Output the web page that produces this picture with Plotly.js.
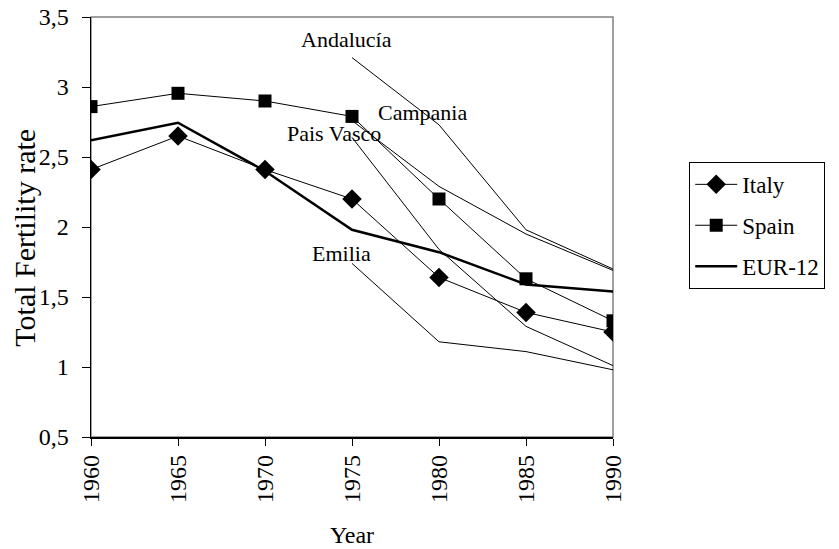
<!DOCTYPE html>
<html>
<head>
<meta charset="utf-8">
<script src="https://cdn.plot.ly/plotly-3.0.1.min.js"></script>
<style>html,body{margin:0;padding:0;background:#fff;}#chart{width:839px;height:549px;}</style>
</head>
<body>
<div id="chart"></div>
<script>
// ---- data ----
const years = [1960, 1965, 1970, 1975, 1980, 1985, 1990];
const italy = [2.41, 2.65, 2.41, 2.20, 1.64, 1.39, 1.25];
const spain = [2.86, 2.955, 2.90, 2.79, 2.20, 1.63, 1.33];
const eur12 = [2.62, 2.745, 2.40, 1.98, 1.82, 1.59, 1.54];

const regionYears = [1975, 1980, 1985, 1990];
const andalucia = [3.21, 2.73, 1.98, 1.70];
const campania = [2.76, 2.29, 1.95, 1.69];
const paisVasco = [2.64, 1.84, 1.29, 1.01];
const emilia = [1.74, 1.18, 1.11, 0.98];

const seriesNames = ["Italy", "Spain", "EUR-12"];
const regionNames = ["Andalucía", "Campania", "Pais Vasco", "Emilia"];
const yTickVals = [0.5, 1, 1.5, 2, 2.5, 3, 3.5];
const yTickText = ["0,5", "1", "1,5", "2", "2,5", "3", "3,5"];
const xTickVals = years;
const xTitle = "Year";
const yTitle = "Total Fertility rate";

// ---- traces ----
const FONT = "Liberation Serif";
const thin = {color: "#000", width: 1};
const regionTrace = (vals, name) => ({
  x: regionYears, y: vals, name: name, mode: "lines",
  line: {color: "#000", width: 1}, showlegend: false, hoverinfo: "skip"
});

const traces = [
  regionTrace(andalucia, regionNames[0]),
  regionTrace(campania, regionNames[1]),
  regionTrace(paisVasco, regionNames[2]),
  regionTrace(emilia, regionNames[3]),
  {x: years, y: eur12, name: seriesNames[2], mode: "lines", legendrank: 3, legendgroup: "c",
   line: {color: "#000", width: 2.5}},
  {x: years, y: italy, name: seriesNames[0], mode: "lines+markers", legendrank: 1, legendgroup: "a",
   line: thin, marker: {symbol: "diamond", size: 15, color: "#000"}},
  {x: years, y: spain, name: seriesNames[1], mode: "lines+markers", legendrank: 2, legendgroup: "b",
   line: thin, marker: {symbol: "square", size: 13, color: "#000"}}
];

// label placement for the region names
const labelX = [1974.66, 1979.05, 1973.99, 1974.37];
const labelY = [3.336, 2.816, 2.669, 1.814];

const annotations = regionNames.map((t, i) => ({
  x: labelX[i], y: labelY[i], xref: "x", yref: "y", text: t, showarrow: false,
  font: {family: FONT, size: 22, color: "#000"}, xanchor: "center", yanchor: "middle"
}));
// y axis title drawn as a rotated annotation so it can be centred like the reference
annotations.push({
  x: -0.128, y: 0.475, xref: "paper", yref: "paper", text: yTitle, showarrow: false,
  textangle: -90, font: {family: FONT, size: 30, color: "#000"},
  xanchor: "center", yanchor: "middle"
});

const layout = {
  width: 839, height: 549,
  margin: {l: 91, r: 226, t: 17, b: 112, pad: 0},
  paper_bgcolor: "#fff", plot_bgcolor: "#fff",
  separators: ", ",
  font: {family: FONT, color: "#000", size: 22},
  showlegend: true,
  legend: {
    x: 1.146, y: 0.655, xanchor: "left", yanchor: "top",
    bordercolor: "#000", borderwidth: 1, bgcolor: "#fff",
    font: {family: FONT, size: 23, color: "#000"},
    itemwidth: 42, tracegroupgap: 8, traceorder: "grouped"
  },
  xaxis: {
    range: [1960, 1990], tickvals: xTickVals, ticktext: xTickVals.map(String),
    tickangle: -90, ticks: "outside", ticklen: 7, tickwidth: 1, tickcolor: "#000",
    showline: true, linecolor: "#000", linewidth: 1.5, showgrid: false, zeroline: false,
    tickfont: {family: FONT, size: 24}, ticklabelstandoff: 0,
    title: {text: xTitle, font: {family: FONT, size: 24}, standoff: 24}
  },
  xaxis2: {
    overlaying: "x", matches: "x", range: [1960, 1990], tickvals: xTickVals,
    ticks: "inside", ticklen: 7, tickwidth: 1, tickcolor: "#000",
    showticklabels: false, showline: false, showgrid: false, zeroline: false
  },
  yaxis: {
    range: [0.5, 3.5], tickvals: yTickVals, ticktext: yTickText,
    ticks: "outside", ticklen: 8, tickwidth: 1, tickcolor: "#000",
    showline: true, linecolor: "#000", linewidth: 1.5, showgrid: false, zeroline: false,
    tickfont: {family: FONT, size: 24}, ticklabelstandoff: 8
  },
  yaxis2: {
    overlaying: "y", matches: "y", range: [0.5, 3.5], tickvals: yTickVals,
    ticks: "inside", ticklen: 6, tickwidth: 1, tickcolor: "#000",
    showticklabels: false, showline: false, showgrid: false, zeroline: false
  },
  shapes: [{
    type: "rect", xref: "paper", yref: "paper", x0: 0, x1: 1, y0: 0, y1: 1,
    line: {color: "#808080", width: 1.5}, layer: "below"
  }],
  annotations: annotations
};

Plotly.newPlot("chart", traces, layout, {staticPlot: true, displayModeBar: false});
</script>
</body>
</html>
